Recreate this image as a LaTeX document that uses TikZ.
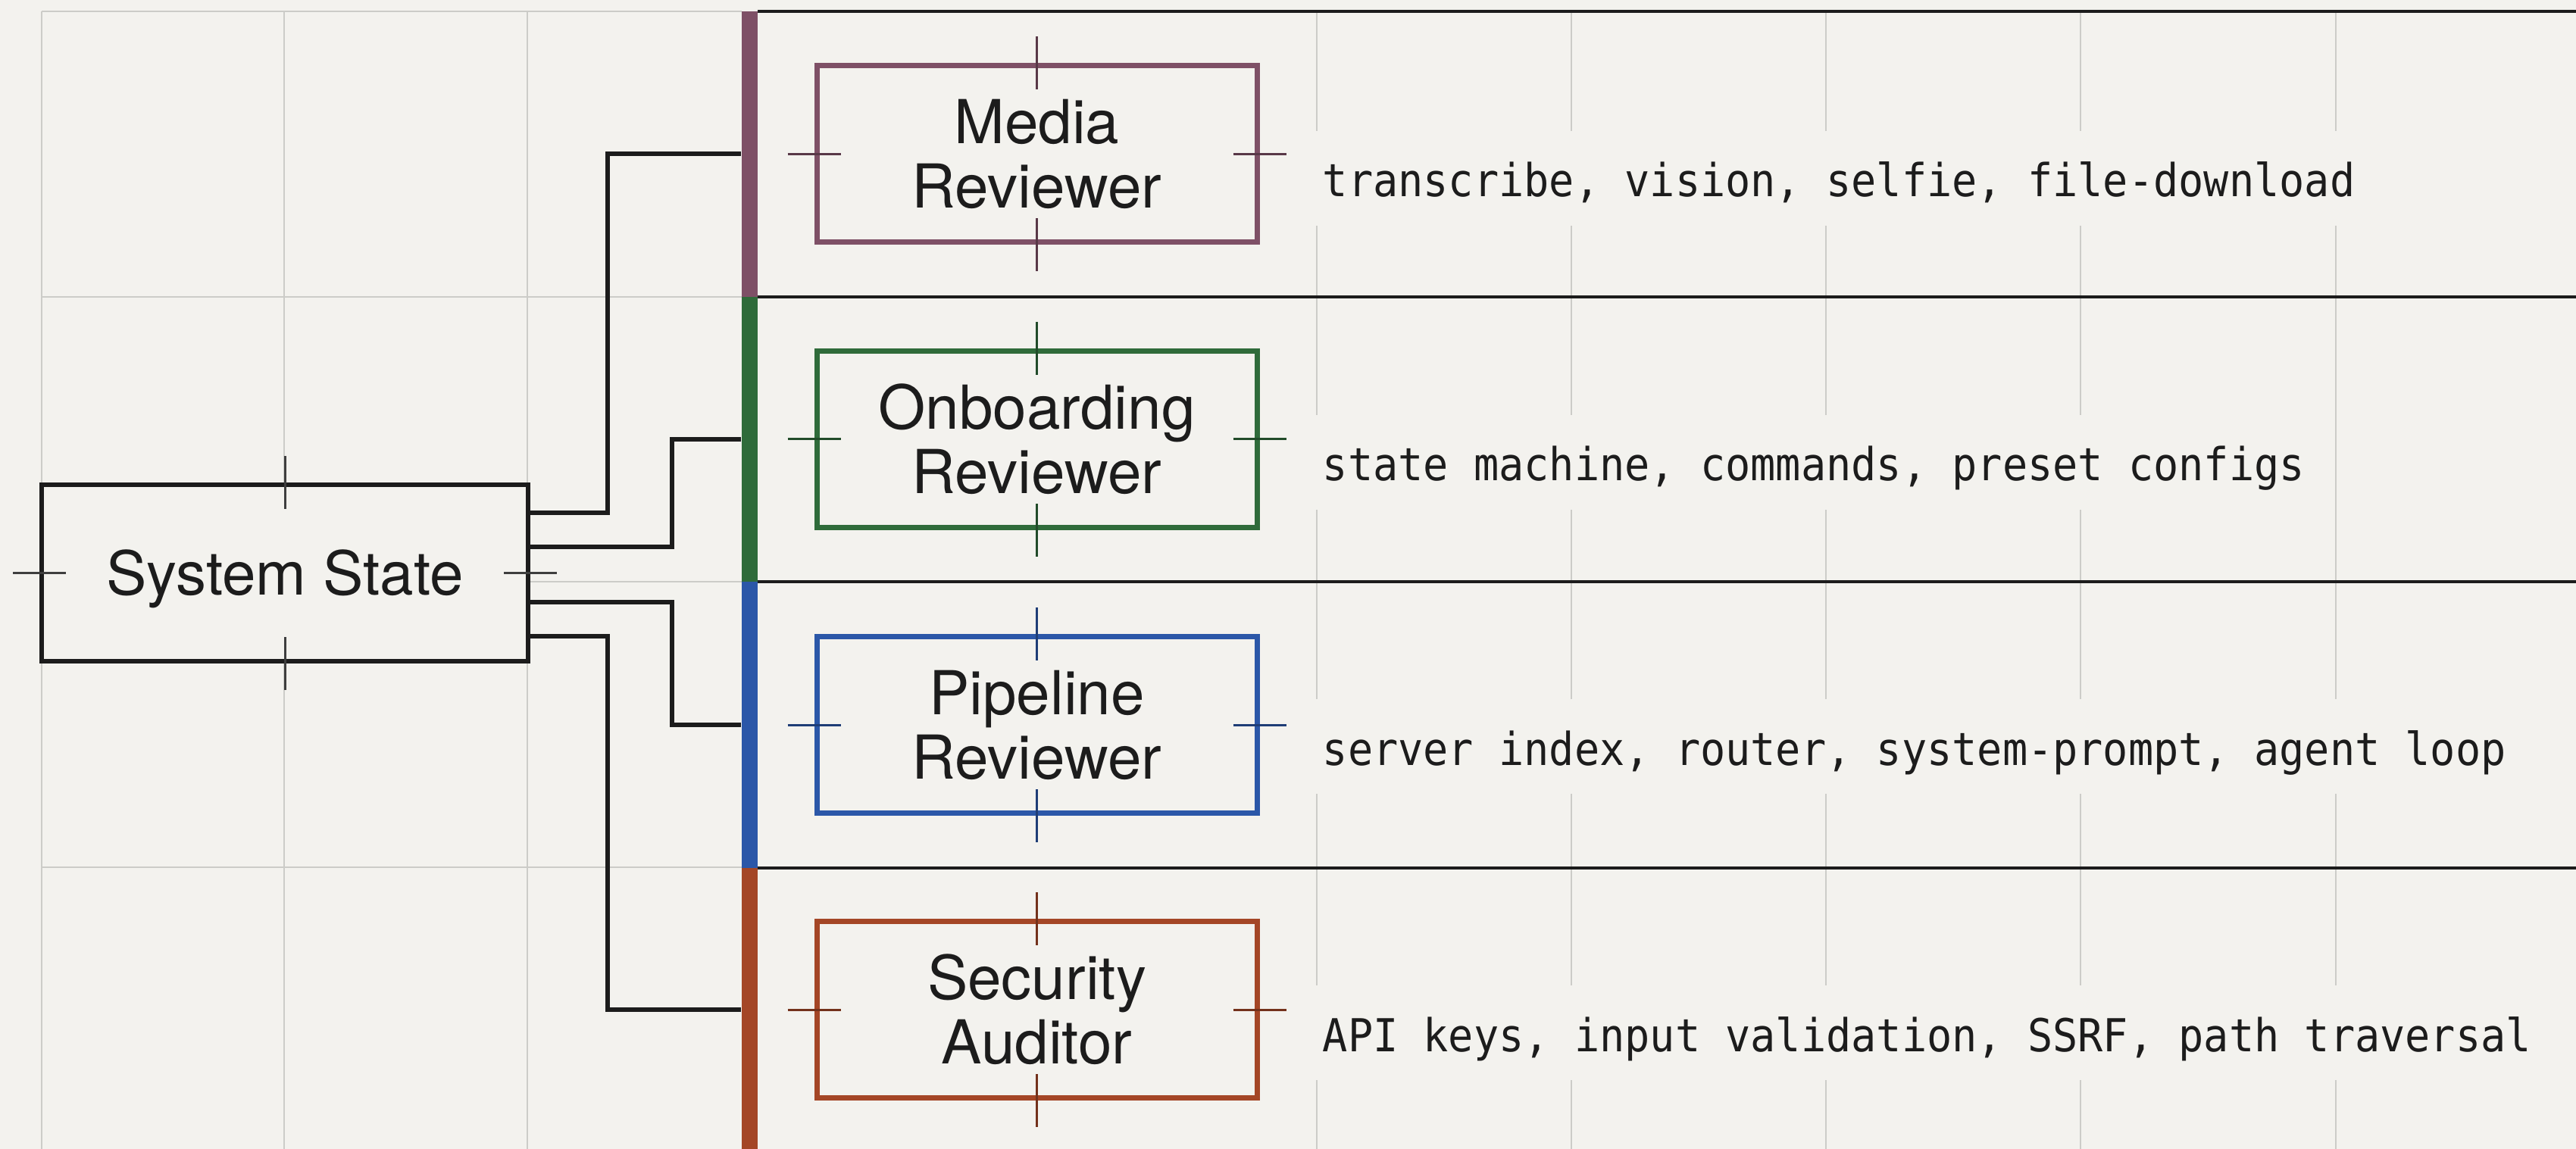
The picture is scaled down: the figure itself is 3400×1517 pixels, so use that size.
\documentclass[tikz,border=0pt]{standalone}
\usepackage{fontspec}
\setmainfont{TeX Gyre Heros}
\newfontfamily\descfont[FakeStretch=0.92]{DejaVu Sans Mono}
\definecolor{bg}{RGB}{243,242,238}
\definecolor{gridc}{RGB}{204,204,200}
\definecolor{ink}{RGB}{28,28,28}
\definecolor{plum}{RGB}{126,80,102}
\definecolor{leaf}{RGB}{47,107,58}
\definecolor{sky}{RGB}{43,87,168}
\definecolor{rust}{RGB}{164,70,38}
\newcommand{\agentticks}[2]{%
  \draw[tickline=#2] ([yshift=8.75pt]#1.north) -- ([yshift=-8.75pt]#1.north);
  \draw[tickline=#2] ([yshift=8.75pt]#1.south) -- ([yshift=-8.75pt]#1.south);
  \draw[tickline=#2] ([xshift=-8.75pt]#1.west) -- ([xshift=8.75pt]#1.west);
  \draw[tickline=#2] ([xshift=-8.75pt]#1.east) -- ([xshift=8.75pt]#1.east);}
\begin{document}
\begin{tikzpicture}[x=0.25pt,y=-0.25pt,
  gridline/.style={draw=gridc, line width=0.5pt},
  divider/.style={draw=ink, line width=1.1pt},
  conn/.style={draw=ink, line width=1.5pt},
  tickline/.style={draw=#1, line width=0.75pt},
  bar/.style={fill=#1, draw=none, inner sep=0pt, minimum width=5.25pt},
  agent/.style={draw=#1, line width=1.75pt, fill=bg, minimum width=145.25pt,
    minimum height=58.25pt, inner sep=0pt, align=center, text=ink,
    font=\fontsize{20}{21.25}\selectfont, text height=35.65pt, text depth=0pt},
  hub/.style={draw=ink, line width=1.5pt, fill=bg, minimum width=160.5pt,
    minimum height=58.25pt, inner sep=0pt, text=ink,
    font=\fontsize{20}{24}\selectfont, text height=14.4pt, text depth=0pt},
  desc/.style={anchor=base west, fill=bg, inner xsep=3pt, inner ysep=0pt,
    text height=21.75pt, text depth=9.5pt, text=ink,
    font=\descfont\fontsize{15}{18}\selectfont}
]
\useasboundingbox (0,0) rectangle (3400,1517);
\fill[bg] (0,0) rectangle (3400,1517);

% grid
\foreach \gx in {55,375,696,1738,2074,2410,2746,3083}
  \draw[gridline] (\gx,15) -- (\gx,1517);
\foreach \gy in {15,392,768,1145}
  \draw[gridline] (55,\gy) -- (979,\gy);

% descriptions
\node[desc] (d1) at (1733,260) {transcribe, vision, selfie, file-download};
\node[desc] (d2) at (1733,635) {state machine, commands, preset configs};
\node[desc] (d3) at (1733,1010) {server index, router, system-prompt, agent loop};
\node[desc] (d4) at (1733,1388) {API keys, input validation, SSRF, path traversal};

% panel dividers
\foreach \dy in {15,392,768,1146}
  \draw[divider] (1000,\dy) -- (3400,\dy);

% colour bars
\node[bar=plum, minimum height=94.25pt] (bar1) at (989.5,203.5) {};
\node[bar=leaf, minimum height=94pt] (bar2) at (989.5,580) {};
\node[bar=sky, minimum height=94.5pt] (bar3) at (989.5,957) {};
\node[bar=rust, minimum height=92.75pt] (bar4) at (989.5,1331.5) {};

% boxes
\node[hub] (ss) at (376,756.5) {System State};
\node[agent=plum] (media) at (1368.5,203.5) {Media\\Reviewer};
\node[agent=leaf] (onb) at (1368.5,580) {Onboarding\\Reviewer};
\node[agent=sky] (pipe) at (1368.5,957) {Pipeline\\Reviewer};
\node[agent=rust] (sec) at (1368.5,1333) {Security\\Auditor};

% connectors
\draw[conn] (ss.east |- 0,677) -| (802,203.5) -- (bar1.west |- media);
\draw[conn] (ss.east |- 0,722) -| (887,580) -- (bar2.west |- onb);
\draw[conn] (ss.east |- 0,795) -| (887,957) -- (bar3.west |- pipe);
\draw[conn] (ss.east |- 0,840) -| (802,1333) -- (bar4.west |- sec);

% ticks
\agentticks{ss}{ink!85}
\agentticks{media}{plum!70!black}
\agentticks{onb}{leaf!70!black}
\agentticks{pipe}{sky!70!black}
\agentticks{sec}{rust!70!black}
\end{tikzpicture}
\end{document}
